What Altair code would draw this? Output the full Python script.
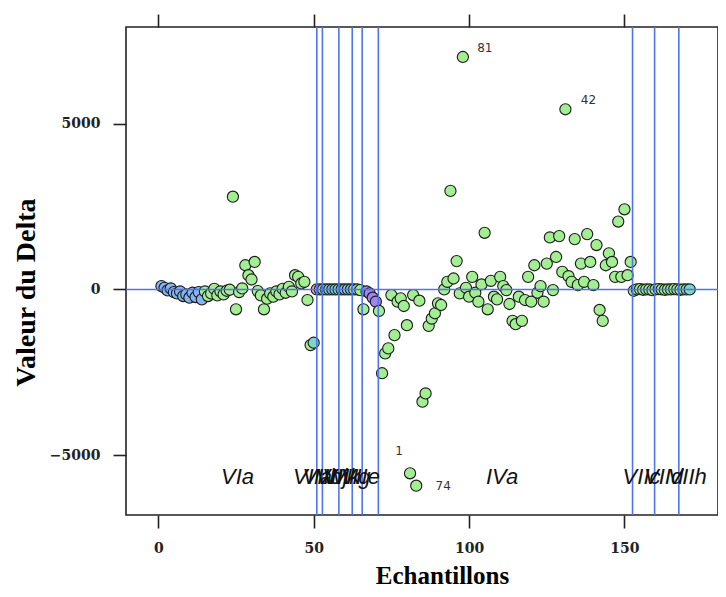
import altair as alt
import pandas as pd

# ---- data ----
sample = list(range(1, 172))
delta = [
    100, 50, -30, 30, -80, -120, -60, -200, -150, -250, -100, -230, -80, -300,      # 1-14
    -60, -200, -120, 20, -180, -60, -150, -40, -10, 2800, -600, -80, 30, 730,       # 15-28
    430, 300, 830, -50, -180, -600, -280, -120, -220, -60, -150, 20, -100, 80,      # 29-42
    -60, 430, 380, 180, 230, -320, -1680, -1610,                                    # 43-50
    0, 0, 0, 0, 0, 0, 0, 0, 0, 0, 0, 0, 0, 0, -20,                                  # 51-65
    -600, -60, -120, -250, -370,                                                    # 66-70
    -650, -2530, -1930, -1780, -170, -1380, -370, -270, -500, -1080,                # 71-80
    -5552, -170, -5926, -340, -3390, -3140, -1100, -880, -720, -420,                # 81-90
    -470, 0, 230, 2975, 330, 855, -120, 7019, 50, -220,                             # 91-100
    380, -100, -370, 150, 1710, -600, 260, -220, -300, 380,                         # 101-110
    100, -20, -440, -950, -1050, -220, -950, -320, 380, -370,                       # 111-120
    730, -100, 100, -370, 780, 1570, -20, 980, 1610, 530,                           # 121-130
    5440, 400, 230, 1520, 130, 780, 230, 1670, 830, 130,                            # 131-140
    1340, -620, -950, 730, 1090, 830, 380, 2050, 380, 2420,                         # 141-150
    430, 830,                                                                       # 151-152
    -40, 0, 10, -10, 0, 0, -20, 0, 10, 0, -10, 0, 0, 10, 0, -10, 0, 0, 0,           # 153-171
]
grp = (["b"] * 14 + ["g"] * 35 + ["c"]
       + ["k", "k", "c", "c", "c", "b", "c", "c", "b", "b", "c", "b", "g", "c", "g"]
       + ["g", "p", "p", "p", "p"]
       + ["g"] * 82
       + ["g"] * 17 + ["c", "c"])

grp_codes = ["b", "g", "p", "c", "k"]
grp_fill = ["#86B4F0", "#A3EE93", "#A184EE", "#7FD6C8", "#F2A2B4"]

boundaries = [51.0, 52.8, 58.1, 62.4, 65.6, 70.8, 152.6, 159.7, 167.5]

zone_names = ["VIa", "VIIa", "VIIb", "VIIj", "VIIk", "VIIg", "VIIe", "IVa", "VIIc", "VIId", "VIIh"]
zone_x = [25.5, 49.6, 52.7, 55.8, 58.9, 62.0, 65.0, 110.6, 155.5, 162.6, 170.2]
zone_y = -5650

point_labels = ["81", "42", "1", "74"]
point_label_sample = [98, 131, 81, 83]

x_ticks = [0, 50, 100, 150]
y_ticks = [-5000, 0, 5000]
x_domain = [-10.4, 180.1]
y_domain = [-6811, 7924]

# ---- tables ----
df = pd.DataFrame({"sample": sample, "delta": delta, "grp": grp})
df_b = pd.DataFrame({"b": boundaries})
df_h = pd.DataFrame({"h": [0]})
df_z = pd.DataFrame({"name": zone_names, "x": zone_x, "y": [zone_y] * len(zone_x)})
df_l = df[df["sample"].isin(point_label_sample)].copy()
df_l["label"] = [point_labels[point_label_sample.index(s)] for s in df_l["sample"]]

xs = alt.Scale(domain=x_domain, nice=False, zero=False)
ys = alt.Scale(domain=y_domain, nice=False, zero=False)

LINE = "#4F74EC"
INK = "#222222"
Y_TITLE = "Valeur du Delta"

points = alt.Chart(df).mark_point(
    shape="circle", filled=True, size=125, stroke="#1a1a1a", strokeWidth=1.1, opacity=1
).encode(
    x=alt.X("sample:Q", scale=xs, axis=alt.Axis(
        orient="bottom", values=x_ticks, title="Echantillons",
        tickSize=13, tickWidth=1.6, tickColor=INK, domain=False, grid=False,
        labelFont="DejaVu Serif", labelFontWeight="bold", labelFontSize=14,
        labelColor=INK, labelPadding=13,
        titleFont="Liberation Serif", titleFontWeight="bold", titleFontSize=25,
        titleColor="#000", titleX=316, titleY=60, titleBaseline="middle")),
    y=alt.Y("delta:Q", scale=ys, title=Y_TITLE, axis=alt.Axis(
        orient="left", values=y_ticks, format="d",
        tickSize=13, tickWidth=1.6, tickColor=INK, domain=False, grid=False,
        labelFont="DejaVu Serif", labelFontWeight="bold", labelFontSize=14,
        labelColor=INK, labelPadding=13,
        titleFont="Liberation Serif", titleFontWeight="bold", titleFontSize=28,
        titleColor="#000", titleX=-100, titleY=265, titleAngle=270,
        titleAlign="center", titleBaseline="middle")),
    fill=alt.Fill("grp:N", scale=alt.Scale(domain=grp_codes, range=grp_fill), legend=None),
)

vlines = alt.Chart(df_b).mark_rule(color=LINE, strokeWidth=1.6).encode(
    x=alt.X("b:Q", scale=xs, axis=alt.Axis(
        orient="top", values=x_ticks, labels=False, title=None,
        tickSize=13, tickWidth=1.6, tickColor=INK, domain=False, grid=False)),
)

hline = alt.Chart(df_h).mark_rule(color=LINE, strokeWidth=1.6).encode(
    y=alt.Y("h:Q", scale=ys, title=Y_TITLE)
)

zones = alt.Chart(df_z).mark_text(
    font="Liberation Sans", fontStyle="italic", fontSize=22, color="#111",
    baseline="middle", align="center"
).encode(
    x=alt.X("x:Q", scale=xs, axis=None),
    y=alt.Y("y:Q", scale=ys, title=Y_TITLE),
    text="name:N",
)

offsets = {"81": (22, -9), "42": (23, -9), "1": (-11, -22), "74": (27, 0)}
label_layers = []
for lab in point_labels:
    dx, dy = offsets[lab]
    label_layers.append(
        alt.Chart(df_l).transform_filter(alt.datum.label == lab).mark_text(
            font="DejaVu Sans", fontSize=12, color="#333", dx=dx, dy=dy,
            align="center", baseline="middle"
        ).encode(
            x=alt.X("sample:Q", scale=xs, axis=None),
            y=alt.Y("delta:Q", scale=ys, title=Y_TITLE),
            text="label:N",
        )
    )

chart = alt.layer(points, vlines, hline, zones, *label_layers).resolve_axis(
    x="independent"
).properties(
    width=592, height=488,
    autosize=alt.AutoSizeParams(type="none"),
    padding={"left": 118, "top": 19, "right": 0, "bottom": 74},
).configure_view(
    stroke=INK, strokeWidth=1.6
)

chart.save("out.html", embed_options={"renderer": "svg", "actions": False})
